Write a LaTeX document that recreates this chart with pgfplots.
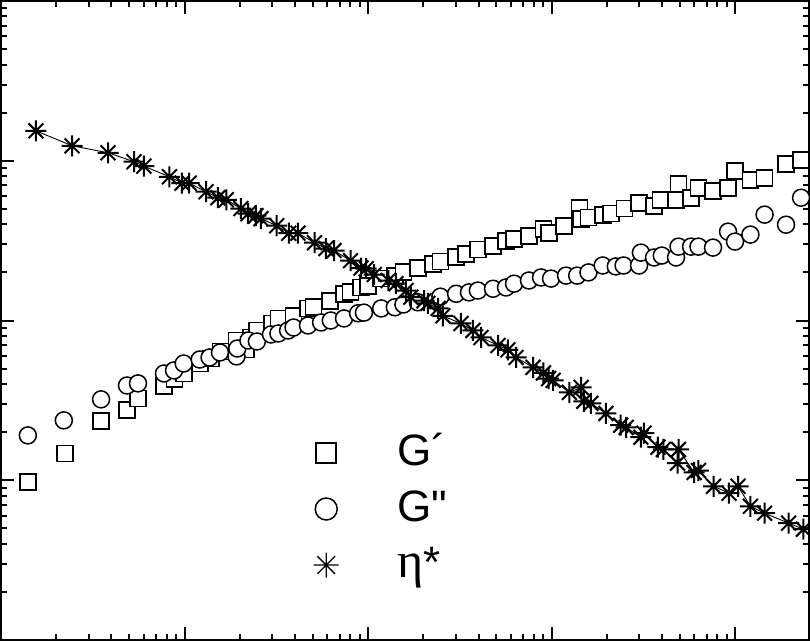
\documentclass[border=0pt]{standalone}
\usepackage{fontspec}
\setmainfont{Liberation Sans}
\newfontfamily\legfont{Liberation Sans}[Ligatures=TeXOff]
\newfontfamily\etafont{Liberation Serif}
\usepackage{pgfplots}
\pgfplotsset{compat=1.18}

% eight-armed asterisk as in the original
\pgfdeclareplotmark{ast8}{%
  \pgfpathmoveto{\pgfqpoint{0pt}{\pgfplotmarksize}}%
  \pgfpathlineto{\pgfqpoint{0pt}{-\pgfplotmarksize}}%
  \pgfpathmoveto{\pgfqpoint{\pgfplotmarksize}{0pt}}%
  \pgfpathlineto{\pgfqpoint{-\pgfplotmarksize}{0pt}}%
  \pgfpathmoveto{\pgfqpointpolar{45}{\pgfplotmarksize}}%
  \pgfpathlineto{\pgfqpointpolar{225}{\pgfplotmarksize}}%
  \pgfpathmoveto{\pgfqpointpolar{135}{\pgfplotmarksize}}%
  \pgfpathlineto{\pgfqpointpolar{315}{\pgfplotmarksize}}%
  \pgfusepathqstroke}

\begin{document}
\begin{tikzpicture}
\begin{axis}[
  xmode=log, ymode=log,
  scale only axis,
  width=808pt, height=639pt,
  xmin=0.1, xmax=2530,
  ymin=1, ymax=10000,
  xticklabels={}, yticklabels={},
  tick align=inside,
  xtick pos=both, ytick pos=both,
  major tick length=13pt,
  minor tick length=6pt,
  every tick/.style={black, line width=2pt},
  axis line style={line width=2pt},
  legend cell align=left,
  legend image code/.code={%
    \path (-12.5pt,0pt) (12.5pt,0pt);
    \draw[#1] plot coordinates {(0pt,-4.5pt)};},
  legend style={draw=none, fill=none,
    at={(axis description cs:0.3868,0.3255)}, anchor=north west,
    inner sep=0pt, outer sep=0pt,
    column sep=58.5pt, row sep=23pt,
    nodes={inner sep=0pt, text height=33pt, text depth=0pt,
      font=\legfont\fontsize{44}{50}\selectfont}},
]
\coordinate (sw) at (rel axis cs:0,0);
\coordinate (ne) at (rel axis cs:1,1);

% G'
\addplot[forget plot, only marks, mark=square*, mark size=8pt,
  mark options={draw=black, fill=white, line width=1.8pt}] coordinates {
(0.140,9.8) (0.223,14.7) (0.351,23.4) (0.486,27.4) (0.558,32.5)
(0.773,38.7) (0.883,42.8) (0.99,46.6) (1.21,53.8) (1.39,57.9)
(1.57,64.0) (1.92,75.0) (2.17,65.9) (2.30,78.3) (2.48,86.6)
(3.00,95.8) (3.25,103) (3.93,107) (4.71,119) (5.05,121)
(6.21,133) (7.40,147) (8.03,150) (9.16,161) (10.0,165)
(11.8,183) (14.0,191) (15.6,202) (18.7,214) (22.6,227)
(24.8,234) (30.2,251) (34.2,262) (39.7,278) (48.0,294)
(56.5,316) (62.5,325) (75.4,340) (90.4,376) (96.4,355)
(117,392) (142,508) (145,434) (159,441) (190,460)
(211,467) (250,502) (300,547) (362,523) (393,570)
(477,570) (492,718) (576,587) (632,678) (759,649)
(916,678) (1000,866) (1213,761) (1449,783) (1897,958)
(2290,1015)
};

% G''
\addplot[forget plot, only marks, mark=*, mark size=8.5pt,
  mark options={draw=black, fill=white, line width=1.5pt}] coordinates {
(0.140,19.1) (0.220,23.7) (0.351,32.1) (0.486,39.2) (0.558,40.4)
(0.773,46.6) (0.877,48.7) (0.99,53.8) (1.21,57.0) (1.37,58.7)
(1.56,63.1) (1.92,59.6) (1.94,66.8) (2.23,75.0) (2.48,73.9)
(2.96,81.8) (3.25,83.0) (3.67,86.6) (3.93,90.4) (4.71,93.1)
(5.55,97.2) (6.27,100) (7.40,103) (8.83,111) (9.5,112)
(11.8,119) (14.0,121) (15.6,126) (18.7,130) (24.8,141)
(30.2,147) (35.5,150) (39.7,154) (48.0,158) (56.5,161)
(62.5,170) (75.4,178) (87.7,186) (99.4,183) (120,191)
(138,191) (159,200) (190,221) (224,218) (247,221)
(300,221) (307,266) (362,248) (399,255) (477,248)
(492,290) (576,290) (632,290) (759,286) (916,360)
(1000,312) (1213,345) (1449,460) (1897,398) (2290,587)
};

% eta*
\addplot[forget plot, black, line width=0.9pt, mark=ast8, mark size=10.5pt,
  mark options={solid, line width=2pt}] coordinates {
(0.155,1540) (0.244,1241) (0.383,1122) (0.531,986) (0.601,925)
(0.828,794) (0.969,724) (1.06,724) (1.31,640) (1.52,587)
(1.69,570) (2.03,502) (2.22,466) (2.45,453) (2.61,434)
(3.18,392) (3.70,352) (4.15,352) (5.11,307) (5.90,282)
(6.53,274) (8.03,237) (9.16,213) (9.78,211) (10.8,194)
(12.9,178) (14.2,170) (16.1,154) (17.1,140) (20.2,133)
(21.2,128) (24.1,119) (25.6,107) (32.1,95.8) (37.3,86.6)
(41.3,78.3) (51.1,69.8) (57.9,65.5) (64.1,58.7) (79.3,50.9)
(90.4,47.0) (96.4,43.3) (102,42.2) (125,35.5) (145,38.1)
(150,31.2) (164,30.3) (198,26.2) (238,22.1) (255,21.4)
(307,18.6) (319,19.7) (380,16.1) (407,15.6) (486,12.8)
(492,15.6) (598,11.2) (632,11.5) (764,9.17) (927,8.30)
(1038,9.17) (1213,6.87) (1449,6.22) (1960,5.39) (2360,4.94)
};

\addlegendimage{only marks, mark=square*, mark size=10pt,
  mark options={draw=black, fill=white, line width=1.8pt}}
\addlegendentry{G´}
\addlegendimage{only marks, mark=*, mark size=11pt,
  mark options={draw=black, fill=white, line width=1.5pt}}
\addlegendentry{G"}
\addlegendimage{only marks, mark=ast8, mark size=12.5pt,
  mark options={draw=black, line width=1.4pt}}
\addlegendentry{{\etafont\fontsize{50}{50}\selectfont η}*}
\end{axis}
\pgfresetboundingbox
\path ([shift={(-1pt,-1pt)}]sw) rectangle ([shift={(1pt,1pt)}]ne);
\end{tikzpicture}
\end{document}
